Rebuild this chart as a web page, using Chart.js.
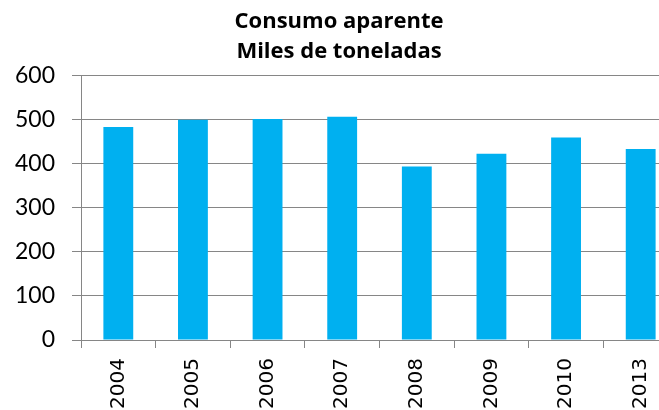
<!DOCTYPE html>
<html>
<head>
<meta charset="utf-8">
<script src="https://cdn.jsdelivr.net/npm/chart.js@4"></script>
<style>
  html, body { margin: 0; padding: 0; overflow: hidden; background: #fff; }
  #wrap { width: 678px; height: 410px; }
</style>
</head>
<body>
<div id="wrap"><canvas id="can"></canvas></div>
<script>
// data
var years = ['2004', '2005', '2006', '2007', '2008', '2009', '2010', '2013'];
var consumo = [484, 500, 502, 507, 394, 423, 460, 434];
var yTicks = [0, 100, 200, 300, 400, 500, 600];

var gris = '#868686';

var ctx = document.getElementById('can').getContext('2d');

window.myBar = new Chart(ctx, {
    type: 'bar',
    data: {
        labels: years,
        datasets: [{
            label: 'Consumo aparente',
            backgroundColor: '#00B0F0',
            borderWidth: 0,
            categoryPercentage: 1,
            barPercentage: 0.4,
            data: consumo
        }]
    },
    options: {
        responsive: true,
        maintainAspectRatio: false,
        animation: false,
        layout: { padding: 0 },
        plugins: {
            legend: { display: false },
            tooltip: { enabled: false },
            title: {
                display: true,
                text: ['Consumo aparente', 'Miles de toneladas'],
                color: '#000',
                font: { family: 'Open Sans', size: 22, weight: 'bold', lineHeight: 1.36 },
                padding: { top: 7, bottom: 9 }
            }
        },
        scales: {
            x: {
                offset: true,
                grid: {
                    offset: true,
                    drawOnChartArea: false,
                    drawTicks: true,
                    tickLength: 8,
                    color: gris
                },
                border: { color: gris, width: 1 },
                ticks: {
                    color: '#000',
                    font: { family: 'DejaVu Sans', size: 20 },
                    minRotation: 90,
                    maxRotation: 90,
                    padding: 10
                },
                afterFit: function (scale) { scale.height = 70; }
            },
            y: {
                min: 0,
                max: 600,
                afterBuildTicks: function (scale) {
                    scale.ticks = yTicks.map(function (v) { return { value: v }; });
                },
                grid: {
                    color: gris,
                    tickLength: 9,
                    lineWidth: 1
                },
                border: { color: gris, width: 1 },
                ticks: {
                    color: '#000',
                    font: { family: 'Lato', size: 23 },
                    padding: 17
                },
                afterFit: function (scale) { scale.width = 81; }
            }
        }
    }
});
</script>
</body>
</html>
